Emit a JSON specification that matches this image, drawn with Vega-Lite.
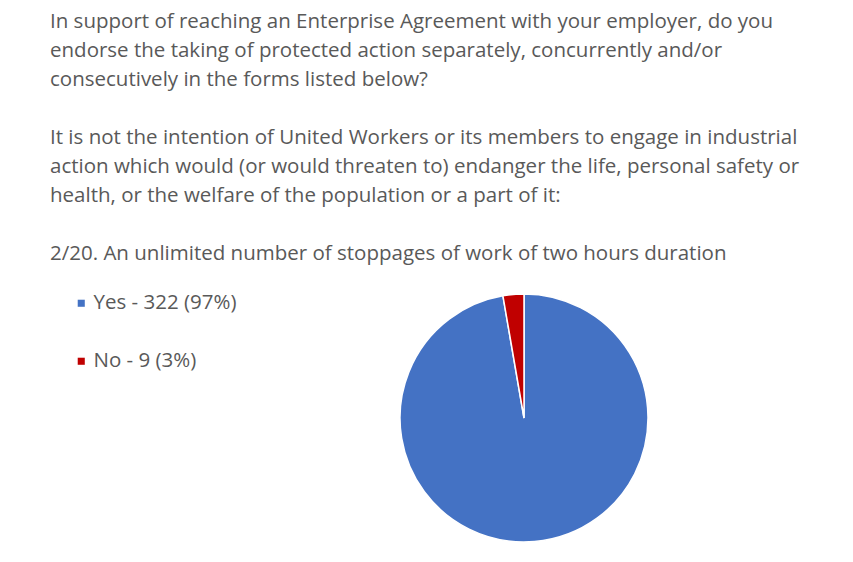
{
  "$schema": "https://vega.github.io/schema/vega-lite/v6.json",
  "autosize": "none",
  "width": 248,
  "height": 248,
  "padding": {"left": 400, "top": 294, "right": 205, "bottom": 20},
  "background": "#ffffff",
  "title": {
    "text": [
      "In support of reaching an Enterprise Agreement with your employer, do you",
      "endorse the taking of protected action separately, concurrently and/or",
      "consecutively in the forms listed below?",
      "\u200b",
      "It is not the intention of United Workers or its members to engage in industrial",
      "action which would (or would threaten to) endanger the life, personal safety or",
      "health, or the welfare of the population or a part of it:",
      "\u200b",
      "2/20. An unlimited number of stoppages of work of two hours duration"
    ],
    "anchor": "start",
    "frame": "group",
    "dx": -350,
    "offset": 27,
    "font": "Open Sans",
    "fontSize": 20.5,
    "fontWeight": "normal",
    "color": "#595959",
    "lineHeight": 29
  },
  "data": {
    "values": [
      {"label": "Yes - 322 (97%)", "count": 322, "order": 1},
      {"label": "No - 9 (3%)", "count": 9, "order": 2}
    ]
  },
  "mark": {"type": "arc", "outerRadius": 124, "stroke": "#ffffff", "strokeWidth": 1.5},
  "encoding": {
    "theta": {"field": "count", "type": "quantitative", "stack": true},
    "order": {"field": "order", "type": "quantitative"},
    "color": {
      "field": "label",
      "type": "nominal",
      "sort": ["Yes - 322 (97%)", "No - 9 (3%)"],
      "scale": {"domain": ["Yes - 322 (97%)", "No - 9 (3%)"], "range": ["#4472C4", "#C00000"]},
      "legend": {
        "title": null,
        "orient": "none",
        "legendX": -329,
        "legendY": -1,
        "symbolType": "square",
        "symbolSize": 50,
        "symbolStrokeWidth": 0,
        "labelFont": "Open Sans",
        "labelFontSize": 20.5,
        "labelColor": "#595959",
        "labelOffset": 2,
        "rowPadding": 37
      }
    }
  },
  "config": {"view": {"stroke": null}}
}
